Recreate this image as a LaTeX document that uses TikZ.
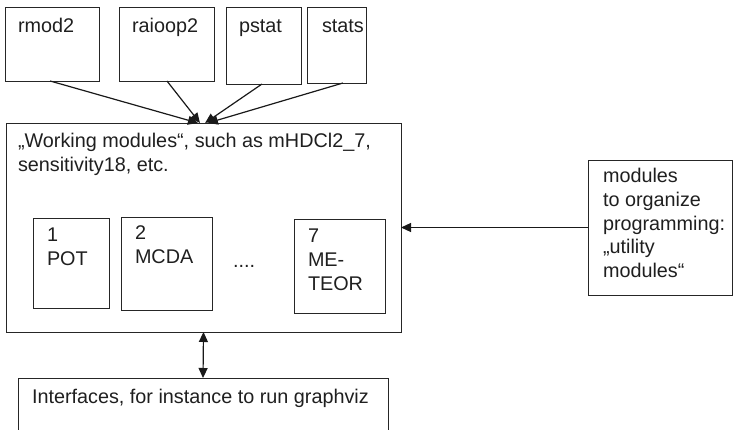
\documentclass[tikz,border=0pt]{standalone}
\usepackage{fontspec}
\setmainfont{Liberation Sans}
\usetikzlibrary{arrows.meta,calc}
\newcommand\mlines[1]{\begin{tabular}[t]{@{}l@{}}#1\end{tabular}}
\begin{document}
\begin{tikzpicture}[x=1pt,y=-1pt,
  box/.style={draw=black!85,line width=0.9pt,inner sep=0pt,outer sep=0pt,anchor=north west},
  txt/.style={anchor=base west,inner sep=0pt,outer sep=0pt,text=black!88,font=\fontsize{19.8}{23.6}\selectfont},
  arr/.style={line width=1.2pt,draw=black!90,-{Triangle[length=10pt,width=9pt]}},
  darr/.style={line width=1.2pt,draw=black!90,{Triangle[length=10pt,width=9pt]}-{Triangle[length=10pt,width=9pt]}}]
\useasboundingbox (0,0) rectangle (733,430);
% top boxes
\node[box,minimum width=94pt,minimum height=74pt] (rmod2) at (5,7) {};
\node[box,minimum width=95pt,minimum height=74pt] (raioop2) at (119,7) {};
\node[box,minimum width=75pt,minimum height=77pt] (pstat) at (226,7) {};
\node[box,minimum width=59pt,minimum height=76pt] (stats) at (307,7) {};
\node[txt] (trmod2) at (18,33) {rmod2};
\node[txt] (traioop2) at (132,33) {raioop2};
\node[txt] (tpstat) at (239,33) {pstat};
\node[txt] (tstats) at (322,33) {stats};
% main box
\node[box,minimum width=395pt,minimum height=209pt] (main) at (6,123) {};
\node[txt] (tmain) at (18,148) {\mlines{„Working modules“, such as mHDCl2\_7,\\sensitivity18, etc.}};
\node[box,minimum width=76pt,minimum height=90pt] (b1) at (33,218) {};
\node[box,minimum width=91pt,minimum height=93pt] (b2) at (121,217) {};
\node[box,minimum width=91pt,minimum height=94pt] (b7) at (294,219) {};
\node[txt] (tb1) at (47,242) {\mlines{1\\POT}};
\node[txt] (tb2) at (135,240) {\mlines{2\\MCDA}};
\node[txt] (tdots) at (233,267) {....};
\node[txt] (tb7) at (308,243) {\mlines{7\\ME-\\TEOR}};
% right box
\node[box,minimum width=144.5pt,minimum height=135pt] (util) at (588,160) {};
\node[txt] (tutil) at (603,183) {\mlines{modules\\to organize\\programming:\\„utility\\modules“}};
% bottom box
\node[box,minimum width=370pt,minimum height=56pt] (iface) at (18,378) {};
\node[txt] (tiface) at (32,403) {Interfaces, for instance to run graphviz};
% arrows
\draw[arr] ($(rmod2.south west)!0.48!(rmod2.south east)$) -- ($(main.north west)!0.486!(main.north east)$);
\draw[arr] ($(raioop2.south west)!0.505!(raioop2.south east)$) -- ($(main.north west)!0.491!(main.north east)$);
\draw[arr] ($(pstat.south west)!0.48!(pstat.south east)$) -- ($(main.north west)!0.504!(main.north east)$);
\draw[arr] ($(stats.south west)!0.61!(stats.south east)$) -- ($(main.north west)!0.511!(main.north east)$);
\draw[arr] (util.west) -- (main.east);
\draw[darr] (main.south) -- (iface.north);
\end{tikzpicture}
\end{document}
